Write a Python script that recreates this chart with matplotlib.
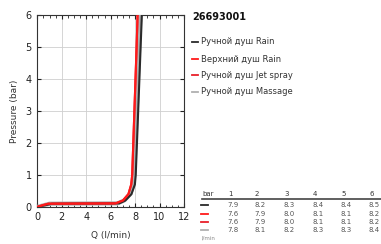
import matplotlib
matplotlib.use("Agg")
import matplotlib.pyplot as plt
from matplotlib.ticker import MultipleLocator

title = "26693001"
series_names = ["Ручной душ Rain", "Верхний душ Rain", "Ручной душ Jet spray", "Ручной душ Massage"]
series_colors = ["#2a2a2a", "#ff1a1a", "#e8202a", "#b0b0b0"]
pressures_bar = [1, 2, 3, 4, 5, 6]
flow_rain_hand = [7.9, 8.2, 8.3, 8.4, 8.4, 8.5]
flow_rain_top = [7.6, 7.9, 8.0, 8.1, 8.1, 8.2]
flow_jet = [7.6, 7.9, 8.0, 8.1, 8.1, 8.2]
flow_massage = [7.8, 8.1, 8.2, 8.3, 8.3, 8.4]

# curves as drawn in the chart (flow, pressure)
curve_p = [0.0, 0.05, 0.1, 0.11, 0.2, 0.4, 0.7, 1.0, 2.0, 3.0, 4.0, 5.0, 6.0]
curve_q_rain_hand = [0.0, 0.6, 1.2, 6.7, 7.2, 7.7, 7.98, 8.05, 8.15, 8.25, 8.35, 8.45, 8.55]
curve_q_rain_top = [0.0, 0.4, 0.9, 6.4, 7.0, 7.45, 7.68, 7.76, 7.85, 7.94, 8.03, 8.12, 8.2]
curve_q_jet = [0.0, 0.4, 0.9, 6.4, 7.0, 7.45, 7.68, 7.76, 7.85, 7.94, 8.03, 8.12, 8.2]
curve_q_massage = [0.0, 0.5, 1.0, 6.55, 7.1, 7.6, 7.85, 7.93, 8.03, 8.13, 8.23, 8.33, 8.43]

fig = plt.figure(figsize=(3.81, 2.44), dpi=100)
ax = fig.add_axes([0.098, 0.152, 0.385, 0.787])

curves = [curve_q_rain_hand, curve_q_rain_top, curve_q_jet, curve_q_massage]
draw_order = [3, 0, 2, 1]
widths = {0: 1.5, 1: 1.5, 2: 1.5, 3: 3.0}
for i in draw_order:
    ax.plot(curves[i], curve_p, color=series_colors[i], lw=widths[i],
            solid_capstyle="butt", solid_joinstyle="round", zorder=3 + (i != 3))

ax.set_xlim(0, 12)
ax.set_ylim(0, 6)
ax.xaxis.set_major_locator(MultipleLocator(2))
ax.xaxis.set_minor_locator(MultipleLocator(0.5))
ax.yaxis.set_major_locator(MultipleLocator(1))
ax.tick_params(which="both", direction="in", top=True, right=True, labelsize=7, colors="#222222")
ax.tick_params(which="major", length=3, width=0.8, pad=4)
ax.tick_params(which="minor", length=1.8, width=0.6)
ax.grid(True, which="major", color="#cfcfcf", lw=0.6)
ax.set_axisbelow(True)
for s in ax.spines.values():
    s.set_color("#333333")
    s.set_linewidth(0.8)
ax.set_xlabel("Q (l/min)", fontsize=6.5, color="#333333", labelpad=6)
ax.set_ylabel("Pressure (bar)", fontsize=6.5, color="#333333", labelpad=5)

def fx(px):
    return px / 381.0

def fy(py):
    return 1 - py / 244.0

fig.text(fx(192), fy(17), title, fontsize=7, fontweight="bold", va="center", ha="left", color="#111111")
legend_y = [42, 59, 75, 92]
for name, col, y in zip(series_names, series_colors, legend_y):
    fig.add_artist(plt.Line2D([fx(192), fx(197.5)], [fy(y), fy(y)], color=col, lw=1.3))
    fig.text(fx(201), fy(y), name, fontsize=6, va="center", ha="left", color="#333333")

# table
col_x = [233, 260, 289, 318, 346, 374]
fig.text(fx(202), fy(194), "bar", fontsize=5, va="center", ha="left", color="#333333")
for x, p in zip(col_x, pressures_bar):
    fig.text(fx(x - 5), fy(194), str(p), fontsize=5, va="center", ha="left", color="#333333")
fig.add_artist(plt.Line2D([fx(202), fx(381)], [fy(199), fy(199)], color="#444444", lw=1.2))
rows = [flow_rain_hand, flow_rain_top, flow_jet, flow_massage]
row_y = [205, 213.5, 222, 229.5]
for vals, col, y in zip(rows, series_colors, row_y):
    fig.add_artist(plt.Line2D([fx(201), fx(208)], [fy(y), fy(y)], color=col, lw=1.3))
    for x, v in zip(col_x, vals):
        fig.text(fx(x), fy(y), f"{v:.1f}", fontsize=5, va="center", ha="center", color="#555555")
fig.text(fx(202), fy(238), "l/min", fontsize=4, va="center", ha="left", color="#888888")

fig.savefig("out.png", dpi=100)
